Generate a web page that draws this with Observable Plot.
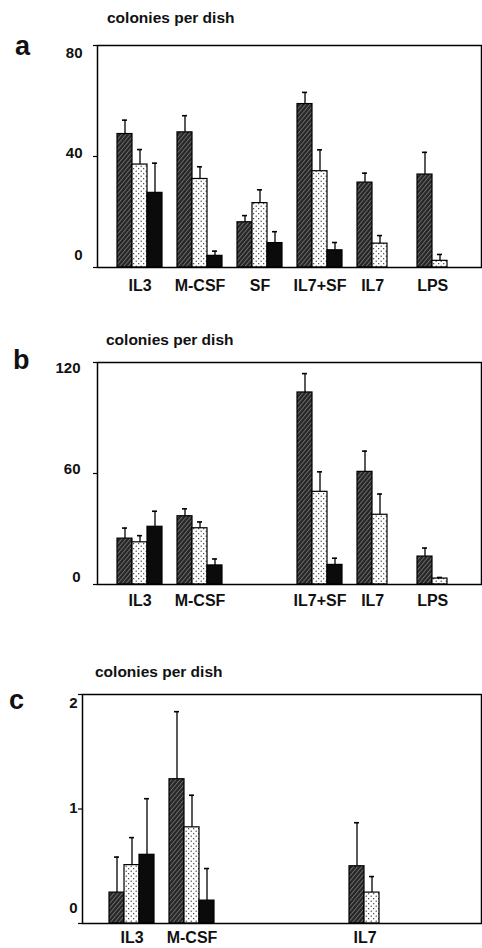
<!DOCTYPE html>
<html><head><meta charset="utf-8">
<script src="https://cdn.jsdelivr.net/npm/d3@7"></script>
<script src="https://cdn.jsdelivr.net/npm/@observablehq/plot@0.6"></script>
<style>
body{margin:0;background:#fff;font-family:"Liberation Sans",Arial,sans-serif;}
#wrap{position:relative;width:482px;height:948px;overflow:hidden;background:#fff;}
.panel{position:absolute;left:0;}
.title{position:absolute;font-size:15.5px;font-weight:bold;line-height:1;color:#111;white-space:nowrap;}
.letter{position:absolute;font-size:27px;font-weight:bold;line-height:1;color:#111;}
</style></head><body>
<svg width="0" height="0" style="position:absolute">
  <defs>
    <pattern id="hatch" patternUnits="userSpaceOnUse" width="3.2" height="3.2" patternTransform="rotate(40)">
      <rect width="3.2" height="3.2" fill="#262626"></rect>
      <line x1="0.5" y1="0" x2="0.5" y2="3.2" stroke="#7a7a7a" stroke-width="0.8"></line>
    </pattern>
    <pattern id="dots" patternUnits="userSpaceOnUse" width="5" height="5">
      <rect width="5" height="5" fill="#fff"></rect>
      <circle cx="1.2" cy="1.2" r="0.65" fill="#222"></circle>
      <circle cx="3.7" cy="3.7" r="0.65" fill="#222"></circle>
    </pattern>
  </defs>
</svg>
<div id="wrap">
  <div class="letter" style="left:15px;top:33px">a</div>
  <div class="title" style="left:107px;top:10px">colonies per dish</div>
  <div class="letter" style="left:13px;top:347px">b</div>
  <div class="title" style="left:106px;top:332px">colonies per dish</div>
  <div class="letter" style="left:9px;top:687px">c</div>
  <div class="title" style="left:95px;top:664px">colonies per dish</div>
  <div class="panel" id="pa" style="top:0px"></div>
  <div class="panel" id="pb" style="top:300px"></div>
  <div class="panel" id="pc" style="top:620px"></div>
</div>
<script>
// ---- data ----
const categories = ["IL3", "M-CSF", "SF", "IL7+SF", "IL7", "LPS"];
const seriesIdx = [0, 1, 2]; // hatched, dotted, solid black

// panel a: means and error (upper bar length)
const aMean1 = [48.1, 48.7, 16.3, 58.9, 30.6, 33.5];
const aMean2 = [37.1, 31.9, 23.2, 34.7, 8.6, 2.4];
const aMean3 = [26.9, 4.2, 8.8, 6.2, null, null];
const aErr1 = [5.0, 6.0, 2.4, 4.2, 3.4, 8.0];
const aErr2 = [5.4, 4.4, 4.8, 7.7, 2.9, 2.3];
const aErr3 = [10.7, 1.7, 4.1, 2.8, null, null];
const aTicks = [0, 40, 80];

// panel b
const bMean1 = [24.8, 36.9, null, 103.8, 60.9, 15.1];
const bMean2 = [22.8, 30.4, null, 50.1, 37.7, 3.2];
const bMean3 = [31.2, 10.3, null, 10.6, null, null];
const bErr1 = [5.7, 4.0, null, 10.2, 11.2, 4.6];
const bErr2 = [3.6, 3.4, null, 10.8, 11.2, 0.6];
const bErr3 = [8.4, 3.5, null, 3.6, null, null];
const bTicks = [0, 60, 120];

// panel c
const cMean1 = [0.27, 1.26, null, null, 0.50, null];
const cMean2 = [0.51, 0.84, null, null, 0.27, null];
const cMean3 = [0.60, 0.20, null, null, null, null];
const cErr1 = [0.31, 0.59, null, null, 0.38, null];
const cErr2 = [0.24, 0.28, null, null, 0.14, null];
const cErr3 = [0.49, 0.28, null, null, null, null];
const cTicks = [0, 1, 2];

// ---- build ----
const xDomain = [];
categories.forEach((c, i) => { xDomain.push("gap" + i); seriesIdx.forEach(j => xDomain.push(c + "|" + j)); });
xDomain.push("gapEnd");

function rows(means, errs) {
  const out = [];
  categories.forEach((c, i) => {
    means.forEach((m, j) => {
      if (m[i] != null) out.push({cat: c, s: j, key: c + "|" + j, v: m[i], top: m[i] + errs[j][i]});
    });
  });
  return out;
}

const fills = ["url(#hatch)", "url(#dots)", "#0b0b0b"];
const FONT = "'Liberation Sans', Arial, sans-serif";

function panel(cfg) {
  const data = rows(cfg.means, cfg.errs);
  const labs = categories.filter(c => data.some(d => d.cat === c))
    .map(c => ({cat: c, n: data.filter(d => d.cat === c).length}));
  const marks = [];
  seriesIdx.forEach(j => {
    marks.push(Plot.barY(data.filter(d => d.s === j), {x: "key", y: "v", fill: fills[j], stroke: "#000", strokeWidth: 1.2}));
  });
  marks.push(Plot.ruleX(data, {x: "key", y1: "v", y2: "top", stroke: "#000", strokeWidth: 1.3}));
  marks.push(Plot.tickY(data, {x: "key", y: "top", stroke: "#000", strokeWidth: 1.6, insetLeft: 5, insetRight: 5}));
  marks.push(Plot.axisY({ticks: cfg.ticks, tickSize: 4, tickFormat: () => "", label: null, stroke: "#000", strokeWidth: 1.2}));
  cfg.ticks.forEach((t, k) => {
    marks.push(Plot.text([t], {y: d => d, frameAnchor: "left", textAnchor: "end", dx: -cfg.pad, dy: cfg.tickDy[k],
      text: d => String(d), fontSize: cfg.tickFont, fontWeight: "bold", fill: "#111"}));
  });
  marks.push(Plot.text(labs.filter(d => d.n === 3), {x: d => d.cat + "|1", frameAnchor: "bottom", dy: cfg.labDy,
    text: "cat", fontSize: 16, fontWeight: "bold", fill: "#111"}));
  marks.push(Plot.text(labs.filter(d => d.n === 2), {x: d => d.cat + "|0", frameAnchor: "bottom", dy: cfg.labDy, dx: cfg.half,
    text: "cat", fontSize: 16, fontWeight: "bold", fill: "#111"}));
  marks.push(Plot.frame({stroke: "#000", strokeWidth: 1.5}));
  return Plot.plot({
    width: 482, height: cfg.height,
    marginLeft: cfg.ml, marginRight: 1, marginTop: cfg.mt, marginBottom: cfg.mb,
    style: {fontFamily: FONT, background: "transparent", color: "#111", overflow: "visible"},
    x: {type: "band", domain: xDomain, padding: 0, axis: null},
    y: {domain: cfg.domain, axis: null},
    marks
  });
}

document.getElementById("pa").appendChild(panel({
  means: [aMean1, aMean2, aMean3], errs: [aErr1, aErr2, aErr3],
  ticks: aTicks, tickDy: [-12, -3, 8], domain: [0, 80],
  height: 300, ml: 97, mt: 45, mb: 33, pad: 15, tickFont: 15, labDy: 23, half: 7.7
}));
document.getElementById("pb").appendChild(panel({
  means: [bMean1, bMean2, bMean3], errs: [bErr1, bErr2, bErr3],
  ticks: bTicks, tickDy: [-7, -4, 6], domain: [0, 120],
  height: 320, ml: 97, mt: 62, mb: 36, pad: 17, tickFont: 15, labDy: 21, half: 7.7
}));
document.getElementById("pc").appendChild(panel({
  means: [cMean1, cMean2, cMean3], errs: [cErr1, cErr2, cErr3],
  ticks: cTicks, tickDy: [-15, -1, 9], domain: [0, 2],
  height: 328, ml: 82, mt: 74, mb: 25, pad: 5, tickFont: 15, labDy: 19, half: 8
}));
</script>
</body></html>
